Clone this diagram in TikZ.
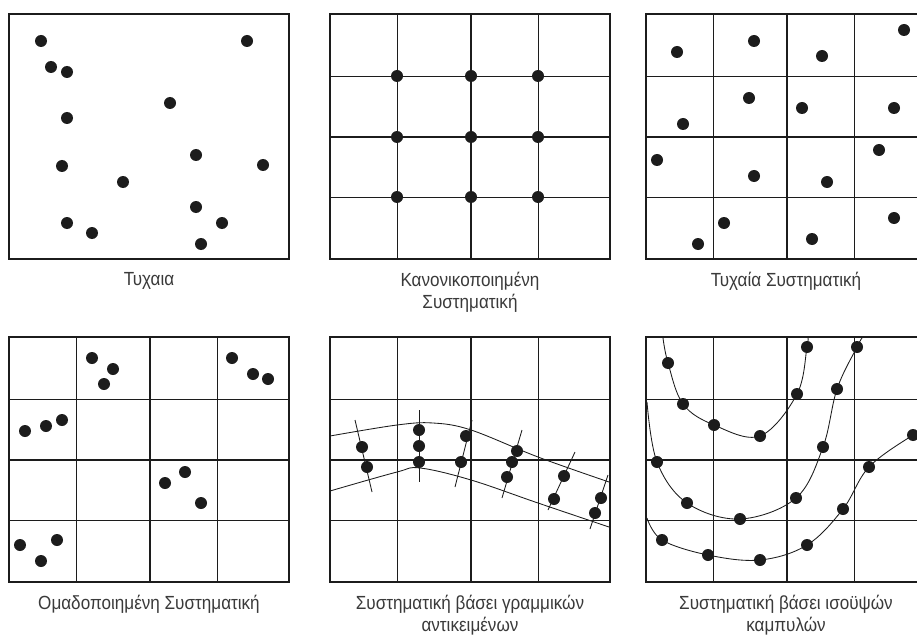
\documentclass[tikz,border=0pt]{standalone}
\usepackage{fontspec}
\setmainfont{Liberation Sans}[FakeStretch=0.9]
\definecolor{ink}{HTML}{1C1C1C}
\definecolor{label}{HTML}{3A3A3A}

\begin{document}
\begin{tikzpicture}[
  x=1pt, y=-1pt, line join=miter,
  frame/.style={draw=ink, line width=1.5pt},
  fine/.style={draw=ink, line width=.75pt},
  coarse/.style={draw=ink, line width=1.3pt},
  trace/.style={draw=ink, line width=.85pt},
  caption/.style={font=\fontsize{19}{22}\selectfont, text=label, align=center,
    anchor=north, inner sep=0pt},
]
  \useasboundingbox (0,0) rectangle (917,639);
  \fill[white] (0,0) rectangle (917,639);

  % Panel geometry: every frame is W x H, split into 4 x 4 cells.
  \def\W{280} \def\H{245}
  \def\dotr{6}

  % Frames of all six panels.
  \foreach \ox/\oy in {9/14, 330/14, 646/14, 9/337, 330/337, 646/337}
    \draw[frame] (\ox,\oy) rectangle (\ox+\W,\oy+\H);

  % Cell grids (middle lines heavier), for all panels but the first.
  \foreach \ox/\oy in {330/14, 646/14, 9/337, 330/337, 646/337} {
    \foreach \c in {67,208} \draw[fine] (\ox+\c,\oy) -- (\ox+\c,\oy+\H);
    \foreach \r in {62,183} \draw[fine] (\ox,\oy+\r) -- (\ox+\W,\oy+\r);
    \draw[coarse] (\ox+141,\oy) -- (\ox+141,\oy+\H);
    \draw[coarse] (\ox,\oy+123) -- (\ox+\W,\oy+123);
  }

  % 1: random points.
  \foreach \x/\y in {41/41, 51/67, 67/72, 247/41, 170/103, 67/118, 196/155,
      62/166, 263/165, 123/182, 196/207, 67/223, 222/223, 92/233, 201/244}
    \fill[ink] (\x,\y) circle (\dotr);

  % 2: points on the grid nodes.
  \foreach \x in {397,471,538}
    \foreach \y in {76,137,197}
      \fill[ink] (\x,\y) circle (\dotr);

  % 3: one random point per cell.
  \foreach \x/\y in {677/52, 754/41, 822/56, 904/30, 683/124, 749/98, 802/108,
      894/108, 657/160, 754/176, 827/182, 879/150, 698/244, 724/223, 812/239,
      894/218}
    \fill[ink] (\x,\y) circle (\dotr);

  % 4: clusters of three in some cells.
  \foreach \x/\y in {92/358, 113/369, 104/384, 232/358, 253/374, 268/379,
      25/431, 46/426, 62/420, 165/483, 185/472, 201/503, 20/545, 41/561, 57/540}
    \fill[ink] (\x,\y) circle (\dotr);

  % 5: a band along a linear feature, sampled on cross sections.
  \draw[trace] plot[smooth, tension=.6] coordinates
    {(330,436) (397,425) (433,423) (471,430) (538,457) (609,482)};
  \draw[trace] plot[smooth, tension=.6] coordinates
    {(330,491) (397,472) (420,468) (471,480) (538,503) (609,527)};
  \foreach \xa/\ya/\xb/\yb in {355/420/372/492, 419/410/419/482, 472/420/455/487,
      522/430/502/498, 575/452/548/510, 608/475/590/529}
    \draw[trace] (\xa,\ya) -- (\xb,\yb);
  \foreach \x/\y in {362/447, 367/467, 419/430, 419/446, 419/462, 466/436,
      461/462, 517/451, 512/462, 507/477, 564/476, 554/499, 601/498, 595/513}
    \fill[ink] (\x,\y) circle (\dotr);

  % 6: points along contour lines.
  \draw[trace] plot[smooth, tension=.6] coordinates
    {(663,338) (668,363) (683,404) (714,425) (760,436) (797,394) (807,347) (808,338)};
  \draw[trace] plot[smooth, tension=.6] coordinates
    {(647,402) (657,462) (687,503) (740,519) (796,498) (823,447) (837,389)
     (857,347) (862,338)};
  \draw[trace] plot[smooth, tension=.6] coordinates
    {(647,518) (662,540) (708,555) (760,560) (807,545) (843,509) (869,467)
     (913,435) (922,432)};
  \foreach \x/\y in {668/363, 683/404, 714/425, 760/436, 797/394, 807/347,
      657/462, 687/503, 740/519, 796/498, 823/447, 837/389, 857/347,
      662/540, 708/555, 760/560, 807/545, 843/509, 869/467, 913/435}
    \fill[ink] (\x,\y) circle (\dotr);

  % Captions.
  \node[caption] (lab1) at (149,272) {Τυχαια};
  \node[caption] (lab2) at (470,272) {Κανονικοποιημένη\\Συστηματική};
  \node[caption] (lab3) at (786,272) {Τυχαία Συστηματική};
  \node[caption] (lab4) at (149,595) {Ομαδοποιημένη Συστηματική};
  \node[caption] (lab5) at (470,595) {Συστηματική βάσει γραμμικών\\αντικειμένων};
  \node[caption] (lab6) at (786,595) {Συστηματική βάσει ισοϋψών\\καμπυλών};
\end{tikzpicture}
\end{document}
